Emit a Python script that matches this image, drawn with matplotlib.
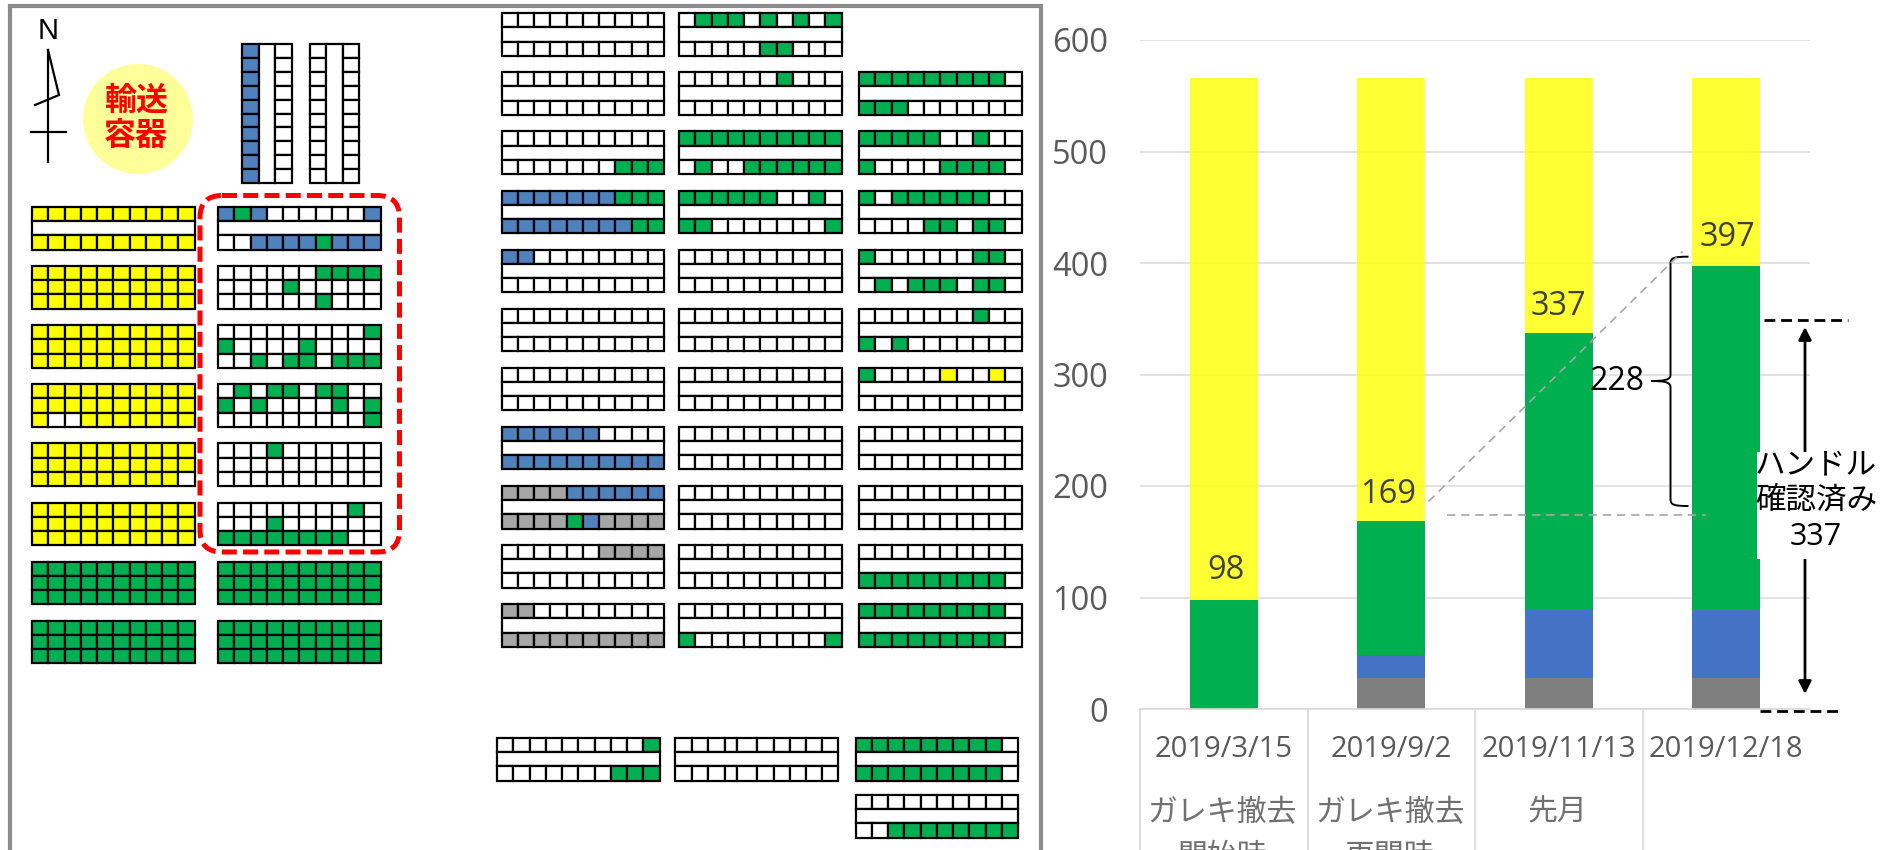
import matplotlib
matplotlib.use("Agg")
import matplotlib.pyplot as plt
from matplotlib.patches import Rectangle, Circle, FancyBboxPatch, Path, PathPatch
from matplotlib.transforms import blended_transform_factory

plt.rcParams['font.family'] = ['Open Sans', 'Noto Sans CJK JP', 'DejaVu Sans']

# ---------- chart data ----------
dates = ['2019/3/15', '2019/9/2', '2019/11/13', '2019/12/18']
notes1 = ['ガレキ撤去', 'ガレキ撤去', '先月', '']
notes2 = ['開始時', '再開時', '', '']
gray_vals = [0, 28, 28, 28]
blue_vals = [0, 20, 61, 61]
green_vals = [98, 121, 248, 308]
yellow_vals = [468, 397, 229, 169]
label_vals = [98, 169, 337, 397]
y_ticks = [0, 100, 200, 300, 400, 500, 600]

# ---------- storage-grid data (w white, g green, y yellow, b blue, a grey, _ merged row) ----------
W = 'wwwwwwwwww'
G = 'gggggggggg'
Y = 'yyyyyyyyyy'
M = '_'
col_a = [
    [Y, M, Y], [Y, Y, Y], [Y, Y, Y], [Y, Y, 'ywwyyyyyyy'],
    [Y, Y, 'yyyyyyyyyw'], [Y, Y, Y], [G, G, G], [G, G, G],
]
col_b = [
    ['bgbwwwwwwb', M, 'wwbbbbgbbb'],
    ['wwwwwwgggg', 'wwwwgwwwww', 'wwwwwwgwww'],
    ['wwwwwwwwwg', 'gwwwwgwwww', 'wwgwggwggg'],
    ['wgwggwggww', 'gwgwwwwgwg', 'wwwwwwwwwg'],
    ['wwwgwwwwww', W, W],
    ['wwwwwwwwgw', 'wwwgwwwwww', 'ggggggggww'],
    [G, G, G], [G, G, G],
]
vert_blocks = [
    ['b' * 10, M, W],
    [W, M, W],
]
col_c = [
    [W, M, W], [W, M, W], [W, M, 'wwwwwwwggg'],
    ['bbbbbbbggg', M, 'bbbbbbbbgg'], ['bbwwwwwwww', M, W],
    [W, M, W], [W, M, W], ['bbbbbbwwww', M, 'bbbbbbbbbb'],
    ['aaaabbbbbb', M, 'aaaagbaaaa'], ['wwwwwwaaaa', M, W],
    ['aawwwwwwww', M, 'aaaaaaaaaa'],
]
col_d = [
    ['wgggwgwgwg', M, 'wwwwwggwww'], ['wwwwwwgwww', M, W],
    [G, M, 'wgwwgggggg'], ['ggggggwwgw', M, 'ggwwwwwwwg'],
    [W, M, W], [W, M, W], [W, M, W], [W, M, W], [W, M, W], [W, M, W],
    [W, M, 'gwwwwwwwwg'],
]
col_e = [
    None,
    ['gggggggggw', M, 'gggwwwwwww'], ['gggggwwgww', M, 'gwwwwggggw'],
    ['gwggggggww', M, 'wwwwggwggw'], ['gwwwwwwggw', M, 'wgwgggwggw'],
    ['wwwwwwwgww', M, 'gwgwwwwwww'], ['gwwwwywwyw', M, W],
    [W, M, W], [W, M, W], [W, M, 'gggggggggw'],
    ['gggggggggw', M, 'gggggggggw'],
]
low_left = ['wwwwwwwwwg', M, 'wwwwwwwggg']
low_mid = [W, M, W]
low_right_1 = ['gggggggggw', M, 'gggggggggw']
low_right_2 = [W, M, 'wwgggggggg']

# ---------- colours / layout ----------
CELL = {'w': '#FFFFFF', 'g': '#00B050', 'y': '#FFFF00', 'b': '#4F81BD', 'a': '#A6A6A6'}
FW, FH = 1892, 850
fig = plt.figure(figsize=(FW / 100, FH / 100), dpi=100, facecolor='white')

# chart axes
X0, X1, Y0, Y600 = 1140, 1810, 709, 40
ax = fig.add_axes([X0 / FW, 1 - Y0 / FH, (X1 - X0) / FW, (Y0 - Y600) / FH], zorder=1)
ax.set_xlim(-0.5, 3.5)
ax.set_ylim(0, 600)
ax.set_axisbelow(True)
ax.yaxis.grid(True, color='#E2E2E2', lw=1.4)
pos = list(range(len(dates)))
bottom = [0] * 4
for vals, col, alpha in [(gray_vals, '#7F7F7F', 1), (blue_vals, '#4472C4', 1),
                         (green_vals, '#00B050', 1), (yellow_vals, '#FFFF00', 0.8)]:
    ax.bar(pos, vals, width=0.405, bottom=bottom, color=col, alpha=alpha, lw=0)
    bottom = [b + v for b, v in zip(bottom, vals)]
for s in ('top', 'right', 'left'):
    ax.spines[s].set_visible(False)
ax.spines['bottom'].set_color('#D9D9D9')
ax.spines['bottom'].set_linewidth(1.2)
ax.set_yticks(y_ticks)
ax.tick_params(axis='y', length=0, pad=23, labelsize=23.5, labelcolor='#595959')
ax.set_xticks(pos)
ax.set_xticklabels(dates)
ax.tick_params(axis='x', length=0, pad=19, labelsize=21, labelcolor='#595959')
lab_dx = [2, -2, 0, 1]
lab_dy = [21, 18.5, 19.5, 21]
for i, v in enumerate(label_vals):
    ax.annotate(str(v), xy=(i, v), xytext=(lab_dx[i], lab_dy[i]), textcoords='offset points',
                ha='center', va='center', fontsize=23.5, color='#404040')
for i in pos:
    if notes1[i]:
        ax.annotate(notes1[i], xy=(i, 0), xytext=(-1, -75), textcoords='offset points',
                    ha='center', va='center', fontsize=21.5, color='#707070', annotation_clip=False)
    if notes2[i]:
        ax.annotate(notes2[i], xy=(i, 0), xytext=(-1, -107), textcoords='offset points',
                    ha='center', va='center', fontsize=21.5, color='#707070', annotation_clip=False)
trans = blended_transform_factory(ax.transData, ax.transAxes)
for xs in (-0.5, 0.5, 1.5, 2.5):
    ax.plot([xs, xs], [0, -141 / (Y0 - Y600)], transform=trans, color='#D9D9D9', lw=1.2, clip_on=False)

# overlay in reference pixel space
ov = fig.add_axes([0, 0, 1, 1], zorder=2)
ov.set_xlim(0, FW)
ov.set_ylim(FH, 0)
ov.axis('off')
ov.patch.set_alpha(0)

# frame (open at the bottom, running off the page)
ov.plot([10, 10, 1041, 1041], [FH + 5, 5.5, 5.5, FH + 5], color='#8C8C8C', lw=3, solid_joinstyle='miter')

LW = 1.6


def draw_block(x, y, w, h, rows, vertical=False, edges=None):
    """rows: three 10-cell strings, '_' is one merged strip."""
    n = 3
    for r, row in enumerate(rows):
        if vertical:
            cw = w / n
            ch = h / 10
            if row == '_':
                ov.add_patch(Rectangle((x + r * cw, y), cw, h, fc='white', ec='black', lw=LW))
                continue
            for c, k in enumerate(row):
                ov.add_patch(Rectangle((x + r * cw, y + c * ch), cw, ch, fc=CELL[k], ec='black', lw=LW))
        else:
            rh = h / n
            if row == '_':
                ov.add_patch(Rectangle((x, y + r * rh), w, rh, fc='white', ec='black', lw=LW))
                continue
            for c, k in enumerate(row):
                if edges is None:
                    xa, cw = x + c * w / 10, w / 10
                else:
                    xa, cw = x + edges[c], edges[c + 1] - edges[c]
                ov.add_patch(Rectangle((xa, y + r * rh), cw, rh, fc=CELL[k], ec='black', lw=LW))


BW, BH, PITCH = 162.5, 42.5, 59.1
for k, rows in enumerate(col_a):
    draw_block(32, 207 + k * PITCH, BW, BH, rows)
for k, rows in enumerate(col_b):
    draw_block(218, 207 + k * PITCH, BW, BH, rows)
for vx, rows in zip((242, 309.5), vert_blocks):
    draw_block(vx, 44, 49.5, 139, rows, vertical=True)
for colx, col in ((501.5, col_c), (679, col_d), (859, col_e)):
    for k, rows in enumerate(col):
        if rows is not None:
            draw_block(colx, 13.2 + k * PITCH, BW, BH, rows)
draw_block(497, 738, BW, BH, low_left)
draw_block(675, 738, BW, BH, low_mid,
           edges=[0, 17, 33, 50, 62, 82, 98.5, 115, 131, 147, BW])
draw_block(855.5, 738, BW, BH, low_right_1)
draw_block(855.5, 795, BW, BH, low_right_2)

# dashed red frame
ov.add_patch(FancyBboxPatch((200, 195.5), 199.5, 356.5, boxstyle='round,pad=0,rounding_size=22',
                            fc='none', ec='#FF0000', lw=3.6, linestyle=(0, (3, 1.25)), zorder=5))

# transport-container badge
ov.add_patch(Circle((138, 119), 55, fc='#FFFF99', ec='none'))
ov.text(136, 101, '輸送', color='#FF0000', fontsize=23, fontweight='bold', ha='center', va='center',
        family=['Noto Sans CJK JP'])
ov.text(136, 136, '容器', color='#FF0000', fontsize=23, fontweight='bold', ha='center', va='center',
        family=['Noto Sans CJK JP'])

# north arrow
ov.text(48, 31, 'N', fontsize=21, ha='center', va='center', color='black', family=['Liberation Sans'])
ov.plot([48, 48], [50, 162], color='black', lw=1.6)
ov.plot([31, 66], [131.5, 131.5], color='black', lw=1.6)
ov.plot([48, 59, 35], [50, 95, 105], color='black', lw=1.6, solid_joinstyle='miter')

# grey dashed guides
ov.plot([1428.5, 1682.5], [501.5, 251.5], color='#A6A6A6', lw=1.2, linestyle=(0, (5, 3.5)))
ov.plot([1446.5, 1706], [515.3, 515.3], color='#A6A6A6', lw=1.2, linestyle=(0, (5, 3.5)))

# brace and its number
bx, by0, by1, bym = 1670.5, 256.7, 506, 381
verts = [(1688.5, by0), (1674, by0), (bx, by0 + 1), (bx, by0 + 7),
         (bx, bym - 6), (bx, bym - 1), (1664, bym), (1651, bym),
         (1664, bym), (bx, bym + 1), (bx, bym + 6),
         (bx, by1 - 7), (bx, by1 - 1), (1674, by1), (1688.5, by1)]
codes = [Path.MOVETO, Path.CURVE4, Path.CURVE4, Path.CURVE4,
         Path.LINETO, Path.CURVE4, Path.CURVE4, Path.CURVE4,
         Path.CURVE4, Path.CURVE4, Path.CURVE4,
         Path.LINETO, Path.CURVE4, Path.CURVE4, Path.CURVE4]
ov.add_patch(PathPatch(Path(verts, codes), fc='none', ec='black', lw=1.4))
ov.text(1617, 381, '228', fontsize=23, ha='center', va='center', color='black')

# black dashed limits and double arrow
ov.plot([1764, 1848], [320, 320], color='black', lw=2, linestyle=(0, (3.9, 2.1)))
ov.plot([1759.5, 1843], [710.5, 710.5], color='black', lw=2, linestyle=(0, (3.9, 2.1)))
ov.annotate('', xy=(1805, 327), xytext=(1805, 694),
            arrowprops=dict(arrowstyle='<|-|>,head_length=0.75,head_width=0.38', color='black', lw=2.0,
                            shrinkA=0, shrinkB=0))
ov.add_patch(Rectangle((1757, 452), 118, 107, fc='white', ec='none', zorder=6))
for ty, t in ((465.7, 'ハンドル'), (501, '確認済み'), (537, '337')):
    ov.text(1816, ty, t, fontsize=22, ha='center', va='center', color='black', zorder=7)

fig.savefig('out.png', dpi=100)
